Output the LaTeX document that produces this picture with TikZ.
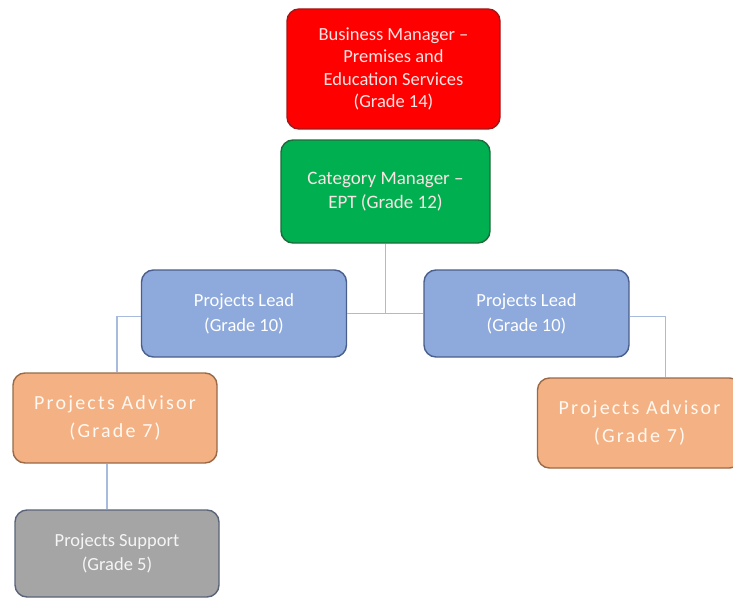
\documentclass[tikz,border=0pt]{standalone}
\usepackage{fontspec}
\setmainfont{Carlito}
\newfontfamily\spacedfont[LetterSpace=11]{Carlito}
\definecolor{redfill}{HTML}{FF0000}
\definecolor{redline}{HTML}{A01818}
\definecolor{greenfill}{HTML}{00B050}
\definecolor{greenline}{HTML}{1E6B3C}
\definecolor{bluefill}{HTML}{8EA9DB}
\definecolor{blueline}{HTML}{4A5F8C}
\definecolor{orangefill}{HTML}{F4B183}
\definecolor{orangeline}{HTML}{9A6A48}
\definecolor{grayfill}{HTML}{A5A5A5}
\definecolor{grayline}{HTML}{5A6478}
\definecolor{conn}{HTML}{A9BBDC}
\definecolor{txt}{HTML}{FCE4E4}
\tikzset{
  box/.style={rounded corners=12pt, line width=1.4pt, align=center, text=white, inner sep=2pt},
  redbox/.style={box, fill=redfill, draw=redline, minimum width=213pt, minimum height=120pt, font=\fontsize{18.5}{22.5}\selectfont, text=txt},
  greenbox/.style={box, fill=greenfill, draw=greenline, minimum width=209pt, minimum height=103pt, font=\fontsize{19}{24}\selectfont, text=txt},
  leadbox/.style={box, fill=bluefill, draw=blueline, minimum width=205pt, minimum height=87pt, font=\fontsize{18.5}{25}\selectfont},
  advbox/.style={box, fill=orangefill, draw=orangeline, minimum width=204pt, minimum height=90pt, font=\fontsize{20}{28}\spacedfont, text=white!95!orange},
  supbox/.style={box, fill=grayfill, draw=grayline, minimum width=204pt, minimum height=87pt, font=\fontsize{18.5}{24}\selectfont, text=white!92!gray},
  link/.style={draw=conn, line width=1.3pt}
}
\begin{document}
\begin{tikzpicture}[x=1pt,y=-1pt]
\useasboundingbox (0,0) rectangle (733,599);
\fill[white] (0,0) rectangle (733,599);
\begin{scope}
\clip (0,0) rectangle (733,599);
\node[redbox] (bm) at (393.5,69) {Business Manager --\\Premises and\\Education Services\\(Grade 14)};
\node[greenbox] (cm) at (385.5,191.5) {Category Manager --\\EPT (Grade 12)};
\node[leadbox] (pl1) at (244,313.5) {Projects Lead\\(Grade 10)};
\node[leadbox] (pl2) at (526.5,313.5) {Projects Lead\\(Grade 10)};
\node[advbox] (pa1) at (115,418) {Projects Advisor\\(Grade 7)};
\node[advbox] (pa2) at (639.5,423) {Projects Advisor\\(Grade 7)};
\node[supbox] (ps) at (117,553.5) {Projects Support\\(Grade 5)};
\path[link] (cm.south) |- (pl1.east);
\path[link] (cm.south) |- (pl2.west);
\path[link] ([yshift=-3pt]pl1.west) -| ([xshift=2pt]pa1.north);
\path[link] ([yshift=-3pt]pl2.east) -| ([xshift=26pt]pa2.north);
\path[link] ([xshift=-8pt]pa1.south) -- ([xshift=-8pt]pa1.south |- ps.north);
\end{scope}
\end{tikzpicture}
\end{document}
